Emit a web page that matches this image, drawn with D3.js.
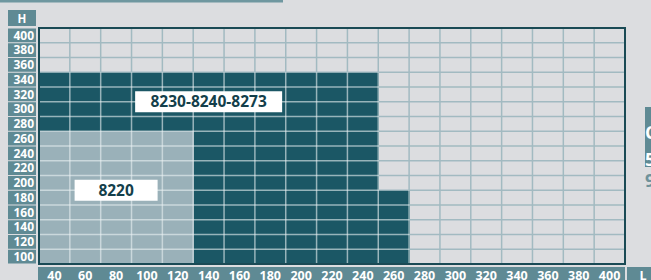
<!DOCTYPE html>
<html>
<head>
<meta charset="utf-8">
<script src="https://cdn.jsdelivr.net/npm/d3@7"></script>
<style>
  html, body { margin: 0; padding: 0; background: #dcdde0; }
  svg { display: block; font-family: 'Open Sans', sans-serif; }
</style>
</head>
<body>
<div class="chart-container"></div>
<script>
// Data
const lValues = [40, 60, 80, 100, 120, 140, 160, 180, 200, 220, 240, 260, 280, 300, 320, 340, 360, 380, 400];
const hValues = [400, 380, 360, 340, 320, 300, 280, 260, 240, 220, 200, 180, 160, 140, 120, 100];

// max H reached by each model, per L column
const darkL = [40, 60, 80, 100, 120, 140, 160, 180, 200, 220, 240, 260];
const darkH = [340, 340, 340, 340, 340, 340, 340, 340, 340, 340, 340, 180];
const lightL = [40, 60, 80, 100, 120];
const lightH = [260, 260, 260, 260, 260];

const darkName = '8230-8240-8273';
const lightName = '8220';

const darkData = darkL.map((l, i) => ({ l, h: darkH[i] }));
const lightData = lightL.map((l, i) => ({ l, h: lightH[i] }));

// Layout
const width = 651, height = 280;
const plot = { left: 39, right: 625, top: 28, bottom: 264 };

const colDark = '#1b5765';
const colLight = '#9ab1b9';
const colBox = '#5f8a94';
const colGrid = '#a2bac1';

const xScale = d3.scaleBand().domain(lValues).range([plot.left, plot.right]).padding(0);
const yScale = d3.scaleBand().domain(hValues).range([plot.top, plot.bottom]).padding(0);

const svg = d3.select('.chart-container')
    .append('svg')
    .attr('width', width)
    .attr('height', height);

// page decoration at top edge
svg.append('rect').attr('x', 0).attr('y', 0).attr('width', 283).attr('height', 2.5).attr('fill', '#6f97a0');

// base grid
const grid = svg.append('g').attr('class', 'grid');
function drawGrid(g, color, w) {
    g.selectAll('.vl')
        .data(lValues.slice(1))
        .join('line')
        .attr('class', 'vl')
        .attr('x1', d => xScale(d)).attr('x2', d => xScale(d))
        .attr('y1', plot.top).attr('y2', plot.bottom)
        .attr('stroke', color).attr('stroke-width', w);
    g.selectAll('.hl')
        .data(hValues.slice(1))
        .join('line')
        .attr('class', 'hl')
        .attr('y1', d => yScale(d)).attr('y2', d => yScale(d))
        .attr('x1', plot.left).attr('x2', plot.right)
        .attr('stroke', color).attr('stroke-width', w);
}
drawGrid(grid, colGrid, 1.5);

// Draw Bars (areas)
function drawBars(data, cls, color) {
    svg.append('g')
        .attr('class', cls)
        .selectAll('rect')
        .data(data)
        .join('rect')
        .attr('x', d => xScale(d.l))
        .attr('y', d => yScale(d.h))
        .attr('width', xScale.bandwidth() + 0.5)
        .attr('height', d => plot.bottom - yScale(d.h))
        .attr('fill', color);
}
drawBars(darkData, 'dark', colDark);
drawBars(lightData, 'light', colLight);

// lighter grid over the coloured areas
const clip = svg.append('clipPath').attr('id', 'areas');
clip.selectAll('rect')
    .data(darkData)
    .join('rect')
    .attr('x', d => xScale(d.l))
    .attr('y', d => yScale(d.h))
    .attr('width', xScale.bandwidth() + 0.5)
    .attr('height', d => plot.bottom - yScale(d.h));

const grid2 = svg.append('g').attr('clip-path', 'url(#areas)');
drawGrid(grid2, 'rgba(235,242,244,0.6)', 1.5);

// plot frame
svg.append('rect')
    .attr('x', plot.left).attr('y', plot.top)
    .attr('width', plot.right - plot.left)
    .attr('height', plot.bottom - plot.top)
    .attr('fill', 'none')
    .attr('stroke', '#1a4a55')
    .attr('stroke-width', 2);

// Y axis cells
const yAxis = svg.append('g').attr('class', 'y axis');
yAxis.selectAll('rect')
    .data(hValues)
    .join('rect')
    .attr('x', 8).attr('width', 28)
    .attr('y', d => yScale(d) + 0.5)
    .attr('height', yScale.bandwidth() - 1)
    .attr('fill', colBox);
yAxis.selectAll('text')
    .data(hValues)
    .join('text')
    .attr('x', 34)
    .attr('y', d => yScale(d) + yScale.bandwidth() / 2 + 4.3)
    .attr('text-anchor', 'end')
    .attr('font-size', 12)
    .attr('font-weight', 700)
    .attr('fill', '#fff')
    .text(d => d);

yAxis.append('rect').attr('x', 8).attr('y', 10).attr('width', 28).attr('height', 16).attr('fill', colBox);
yAxis.append('text')
    .attr('x', 22).attr('y', 22.5)
    .attr('text-anchor', 'middle')
    .attr('font-size', 11.5).attr('font-weight', 700).attr('fill', '#fff')
    .text('H');

// X axis cells
const xAxis = svg.append('g').attr('class', 'x axis');
xAxis.append('rect')
    .attr('x', plot.left - 1).attr('y', 267)
    .attr('width', plot.right - plot.left + 1).attr('height', 14)
    .attr('fill', colBox);
xAxis.selectAll('text')
    .data(lValues)
    .join('text')
    .attr('x', d => xScale(d) + xScale.bandwidth() / 2)
    .attr('y', 280)
    .attr('text-anchor', 'middle')
    .attr('font-size', 12.5)
    .attr('font-weight', 700)
    .attr('fill', '#fff')
    .text(d => d);
xAxis.append('rect').attr('x', 627).attr('y', 267).attr('width', 30).attr('height', 14).attr('fill', colBox);
xAxis.append('text')
    .attr('x', 643).attr('y', 280)
    .attr('text-anchor', 'middle')
    .attr('font-size', 12.5).attr('font-weight', 700).attr('fill', '#fff')
    .text('L');

// Labels
function addLabel(text, l, h, w, size) {
    const cx = xScale(l) + xScale.bandwidth() / 2;
    const cy = yScale(h);
    const g = svg.append('g').attr('class', 'label');
    g.append('rect')
        .attr('x', cx - w / 2).attr('y', cy - 10.5)
        .attr('width', w).attr('height', 21)
        .attr('fill', '#fff');
    g.append('text')
        .attr('x', cx).attr('y', cy + 5.6)
        .attr('text-anchor', 'middle')
        .attr('font-size', size)
        .attr('font-weight', 700)
        .attr('fill', '#143f4b')
        .text(text);
}
addLabel(darkName, 140, 300, 147, 15.5);
addLabel(lightName, 80, 180, 83, 15.5);

// cropped side tab on the right edge
const side = svg.append('g').attr('class', 'side');
side.append('rect').attr('x', 645).attr('y', 107).attr('width', 10).attr('height', 60).attr('fill', colBox);
side.append('text').attr('x', 645).attr('y', 139).attr('font-size', 18).attr('font-weight', 700).attr('fill', '#fff').text('C');
side.append('text').attr('x', 645).attr('y', 166).attr('font-size', 18).attr('font-weight', 700).attr('fill', '#fff').text('5');
side.append('text').attr('x', 645).attr('y', 187).attr('font-size', 18).attr('font-weight', 700).attr('fill', '#6f929b').text('9');
</script>
</body>
</html>
